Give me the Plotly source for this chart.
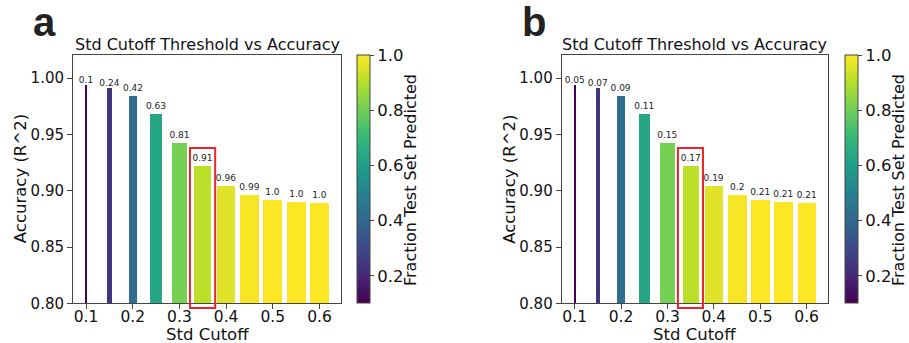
import plotly.graph_objects as go

# ---- data ----
std_cutoff = [0.10, 0.15, 0.20, 0.25, 0.30, 0.35, 0.40, 0.45, 0.50, 0.55, 0.60]
accuracy = [0.994, 0.991, 0.984, 0.968, 0.942, 0.922, 0.904, 0.896, 0.892, 0.890, 0.889]
fraction_a = [0.10, 0.24, 0.42, 0.63, 0.81, 0.91, 0.96, 0.99, 1.0, 1.0, 1.0]
labels_a = ["0.1", "0.24", "0.42", "0.63", "0.81", "0.91", "0.96", "0.99", "1.0", "1.0", "1.0"]
labels_b = ["0.05", "0.07", "0.09", "0.11", "0.15", "0.17", "0.19", "0.2", "0.21", "0.21", "0.21"]
x_ticks = [0.1, 0.2, 0.3, 0.4, 0.5, 0.6]
y_ticks = [0.80, 0.85, 0.90, 0.95, 1.00]
cb_ticks = [0.2, 0.4, 0.6, 0.8, 1.0]

# ---- style / layout constants ----
W, H = 909, 343
FONT = "DejaVu Sans"
full_width = 0.04
widths = [full_width * f for f in fraction_a]
x_range = [0.072, 0.646]
y_range = [0.80, 1.0205]
plot_top, plot_bot = 55, 303.3
a_left, a_right = 73, 341
b_left, b_right = 561.7, 828
cb_a_left, cb_b_left = 357, 845
hl_x0, hl_x1, hl_y0, hl_y1 = 0.3225, 0.3765, 0.7958, 0.938
axis_col = "#444"
txt_col = "#111"

def px_x(p):
    return p / W

def px_y(p):
    return 1 - p / H

ydom = [px_y(plot_bot), px_y(plot_top)]

fig = go.Figure()
for i, (labels, ca) in enumerate([(labels_a, "coloraxis"), (labels_b, "coloraxis2")]):
    sfx = "" if i == 0 else "2"
    fig.add_trace(go.Bar(
        x=std_cutoff, y=accuracy, width=widths,
        marker=dict(color=fraction_a, coloraxis=ca, line=dict(width=0)),
        text=labels, textposition="outside", constraintext="none",
        textfont=dict(family=FONT, size=9, color="#222"),
        cliponaxis=False, hoverinfo="skip",
        xaxis="x" + sfx, yaxis="y" + sfx, showlegend=False,
    ))

def xax(dom, anchor):
    return dict(domain=dom, anchor=anchor, range=x_range, tickvals=x_ticks,
                ticktext=[f"{v:.1f}" for v in x_ticks], automargin=False,
                showline=True, mirror=True, linecolor=axis_col, linewidth=1,
                ticks="outside", ticklen=5, tickcolor=axis_col, showgrid=False,
                ticklabelstandoff=-6,
                zeroline=False, tickfont=dict(family=FONT, size=15.5, color=txt_col))

def yax(anchor):
    return dict(domain=ydom, anchor=anchor, range=y_range, tickvals=y_ticks,
                tickformat=".2f", automargin=False,
                showline=True, mirror=True, linecolor=axis_col, linewidth=1,
                ticks="outside", ticklen=5, tickcolor=axis_col, showgrid=False,
                zeroline=False, tickfont=dict(family=FONT, size=15, color=txt_col))

def cax(left):
    return dict(cmin=0.1, cmax=1.0, colorscale="Viridis",
                colorbar=dict(x=px_x(left), xanchor="left", xref="paper",
                              y=ydom[0], yanchor="bottom", yref="paper",
                              len=ydom[1] - ydom[0], lenmode="fraction",
                              thickness=13, thicknessmode="pixels",
                              xpad=0, ypad=0, outlinewidth=1, outlinecolor=axis_col,
                              tickvals=cb_ticks,
                              ticktext=[f"{v:.1f}" for v in cb_ticks],
                              ticks="outside", ticklen=4, tickcolor=axis_col,
                              tickfont=dict(family=FONT, size=16.5, color=txt_col)))

def to_dom(v, r):
    return (v - r[0]) / (r[1] - r[0])

shapes = []
for sfx in ["", "2"]:
    shapes.append(dict(type="rect", xref=f"x{sfx} domain", yref=f"y{sfx} domain",
                       x0=to_dom(hl_x0, x_range), x1=to_dom(hl_x1, x_range),
                       y0=to_dom(hl_y0, y_range), y1=to_dom(hl_y1, y_range),
                       line=dict(color="#e8262b", width=2), fillcolor="rgba(0,0,0,0)"))

annotations = []
for left, right, cbl, letter in [(a_left, a_right, cb_a_left, "a"), (b_left, b_right, cb_b_left, "b")]:
    mid = (left + right) / 2
    annotations.append(dict(text="Std Cutoff Threshold vs Accuracy", xref="paper", yref="paper",
                            x=px_x(mid), y=px_y(45), xanchor="center", yanchor="middle",
                            showarrow=False, font=dict(family=FONT, size=16, color=txt_col)))
    annotations.append(dict(text="Std Cutoff", xref="paper", yref="paper",
                            x=px_x(mid), y=px_y(334), xanchor="center", yanchor="middle",
                            showarrow=False, font=dict(family=FONT, size=16.5, color=txt_col)))
    annotations.append(dict(text="Accuracy (R^2)", xref="paper", yref="paper", textangle=-90,
                            x=px_x(left - 53), y=px_y((plot_top + plot_bot) / 2),
                            xanchor="center", yanchor="middle",
                            showarrow=False, font=dict(family=FONT, size=16.5, color=txt_col)))
    annotations.append(dict(text="Fraction Test Set Predicted", xref="paper", yref="paper",
                            textangle=-90, x=px_x(cbl + 54), y=px_y(180),
                            xanchor="center", yanchor="middle",
                            showarrow=False, font=dict(family=FONT, size=16, color=txt_col)))
    annotations.append(dict(text=f"<b>{letter}</b>", xref="paper", yref="paper",
                            x=px_x(left - 42), y=px_y(22), xanchor="left", yanchor="middle",
                            showarrow=False,
                            font=dict(family="Liberation Sans", size=40, color="#222")))

fig.update_layout(
    width=W, height=H, margin=dict(l=0, r=0, t=0, b=0),
    paper_bgcolor="white", plot_bgcolor="white",
    xaxis=xax([px_x(a_left), px_x(a_right)], "y"),
    yaxis=yax("x"),
    xaxis2=xax([px_x(b_left), px_x(b_right)], "y2"),
    yaxis2=yax("x2"),
    coloraxis=cax(cb_a_left), coloraxis2=cax(cb_b_left),
    shapes=shapes, annotations=annotations, bargap=0,
)

fig.write_html("out.html", config={"displayModeBar": False},
               post_script="document.body.style.margin='0';document.body.style.overflow='hidden';")
